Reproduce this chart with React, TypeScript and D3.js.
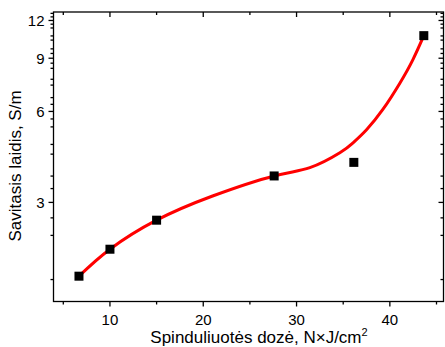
import React from "react";
import * as d3 from "d3";

const pointX = [6.68, 10.0, 15.0, 27.6, 36.14, 43.64];
const pointY = [1.71, 2.1, 2.62, 3.67, 4.07, 10.69];

const curveX = [6.68, 10.0, 15.0, 21.0, 27.6, 31.43, 34.64, 36.04, 37.5, 39.25, 41.07, 42.46, 43.64];
const curveY = [1.71, 2.1, 2.62, 3.15, 3.67, 3.91, 4.38, 4.72, 5.22, 6.09, 7.44, 8.89, 10.69];

const xMajor = [10, 20, 30, 40];
const xMinor = [5, 15, 25, 35, 45];
const yMajor = [3, 6, 9, 12];

const W = 445, H = 347;
const L = 53.5, R = 443.5, T = 12, B = 301.5;

export default function App() {
  const x = d3.scaleLinear().domain([3.95, 45.75]).range([L, R]);
  const y = d3.scaleLog().domain([1.41, 12.8]).range([B, T]);
  const yMinor = d3.range(4, 39).map((k) => k / 3).filter((v, i) => (i + 4) % 3 !== 0 && v >= 1.41 && v <= 12.8);

  const line = d3
    .line<number>()
    .x((_, i) => x(curveX[i]))
    .y((d) => y(d))
    .curve(d3.curveNatural);

  const font = "'Liberation Sans', Arial, sans-serif";
  const ms = 9;
  return (
    <svg width={W} height={H} style={{ position: "absolute", left: 0, top: 0 }} fontFamily={font}>
      <rect x={0} y={0} width={W} height={H} fill="#fff" />
      <path d={line(curveY) || ""} fill="none" stroke="#ff0000" strokeWidth={3} />
      {pointX.map((px, i) => (
        <rect key={i} x={x(px) - ms / 2} y={y(pointY[i]) - ms / 2} width={ms} height={ms} fill="#000" />
      ))}
      <g stroke="#000" strokeWidth={1.3} fill="none">
        <rect x={L} y={T} width={R - L} height={B - T} />
        {xMajor.map((v) => (
          <g key={"xm" + v}>
            <line x1={x(v)} x2={x(v)} y1={B} y2={B + 5} />
            <line x1={x(v)} x2={x(v)} y1={T} y2={T + 5} />
          </g>
        ))}
        {xMinor.map((v) => (
          <g key={"xn" + v}>
            <line x1={x(v)} x2={x(v)} y1={B} y2={B + 3} />
            <line x1={x(v)} x2={x(v)} y1={T} y2={T + 3} />
          </g>
        ))}
        {yMajor.map((v) => (
          <g key={"ym" + v}>
            <line x1={L - 5} x2={L} y1={y(v)} y2={y(v)} />
            <line x1={R - 5} x2={R} y1={y(v)} y2={y(v)} />
          </g>
        ))}
        {yMinor.map((v, i) => (
          <g key={"yn" + i}>
            <line x1={L - 3} x2={L} y1={y(v)} y2={y(v)} />
            <line x1={R - 3} x2={R} y1={y(v)} y2={y(v)} />
          </g>
        ))}
      </g>
      <g fontSize={15} fill="#000">
        {xMajor.map((v) => (
          <text key={"xl" + v} x={x(v)} y={325} textAnchor="middle">{v}</text>
        ))}
        {yMajor.map((v) => (
          <text key={"yl" + v} x={L - 9} y={y(v) + 5.5} textAnchor="end">{v}</text>
        ))}
      </g>
      <text x={259} y={343} fontSize={17} textAnchor="middle" fill="#000">
        Spinduliuotės dozė, N×J/cm<tspan dy={-7} fontSize={11}>2</tspan>
      </text>
      <text transform="translate(21,166) rotate(-90)" fontSize={17} textAnchor="middle" fill="#000">
        Savitasis laidis, S/m
      </text>
    </svg>
  );
}
